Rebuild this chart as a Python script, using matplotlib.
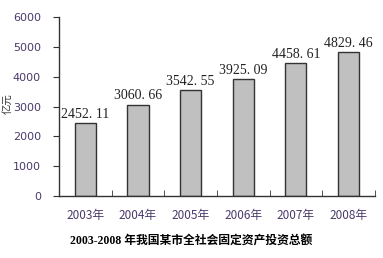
import matplotlib.pyplot as plt
from matplotlib.ticker import FixedLocator

plt.rcParams['font.family'] = ['Liberation Serif', 'Noto Sans CJK SC', 'DejaVu Sans']

years = ['2003年', '2004年', '2005年', '2006年', '2007年', '2008年']
values = [2452.11, 3060.66, 3542.55, 3925.09, 4458.61, 4829.46]
yticks = [0, 1000, 2000, 3000, 4000, 5000, 6000]
title = '2003-2008 年我国某市全社会固定资产投资总额'

tick_color = '#4a3a6a'

fig = plt.figure(figsize=(3.83, 2.58), dpi=100)
ax = fig.add_axes([0.154, 0.240, 0.825, 0.694])

x = list(range(len(years)))
ax.bar(x, values, width=0.4, color='#c0c0c0', edgecolor='#333333', linewidth=1.0)

for xi, v in zip(x, values):
    label = f'{v:.2f}'.replace('.', '. ')
    ax.text(xi, v + 80, label, ha='center', va='bottom', fontsize=10,
            family=['Liberation Serif'], color='#222222')

ax.set_xlim(-0.5, len(years) - 0.5)
ax.set_ylim(0, 6000)
ax.set_yticks(yticks)
ax.set_xticks(x)
ax.set_xticklabels(years, family=['Noto Sans CJK SC'], fontsize=8.5, color=tick_color)
ax.set_yticklabels([str(t) for t in yticks], family=['DejaVu Sans'], fontsize=8, color=tick_color)
ax.tick_params(axis='x', length=0, pad=9)
ax.xaxis.set_minor_locator(FixedLocator([i + 0.5 for i in x]))
ax.tick_params(axis='x', which='minor', direction='in', length=4, color='#333333')
ax.tick_params(axis='y', direction='out', length=4, color='#333333', pad=9)

for s in ['top', 'right']:
    ax.spines[s].set_visible(False)
for s in ['left', 'bottom']:
    ax.spines[s].set_color('#333333')
    ax.spines[s].set_linewidth(1.0)

fig.text(0.022, 0.60, '亿元', rotation=90, ha='center', va='center',
         family=['Noto Sans CJK SC'], fontsize=7.5, color='#333333')

fig.text(0.5, 0.065, title, ha='center', va='center', fontsize=8.5,
         fontweight='bold', family=['Liberation Serif', 'Noto Sans CJK SC'])

fig.savefig('out.png', dpi=100)
